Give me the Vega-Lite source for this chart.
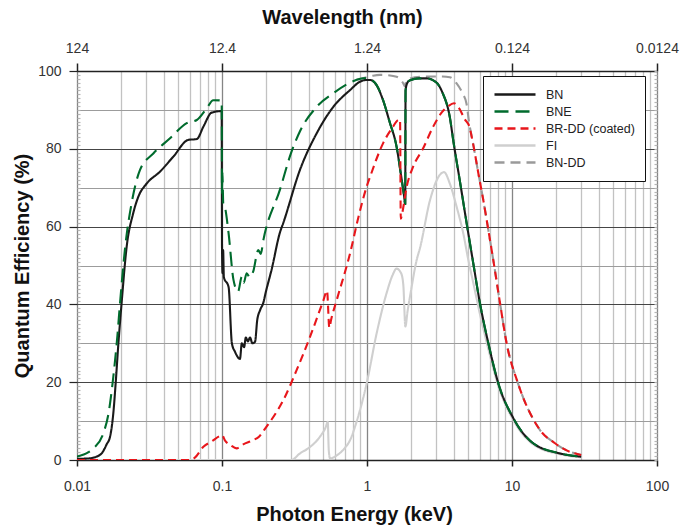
{
  "$schema": "https://vega.github.io/schema/vega-lite/v6.json",
  "width": 580,
  "height": 389,
  "autosize": {"type": "none"},
  "padding": {"left": 77, "top": 71, "right": 25, "bottom": 68},
  "background": "white",
  "config": {"view": {"stroke": null}, "font": "Liberation Sans"},
  "data": {"values": [
    {"series":"BN-DD","E":0.85,"QE":97.8},{"series":"BN-DD","E":0.9,"QE":98},{"series":"BN-DD","E":1.0,"QE":98.4},{"series":"BN-DD","E":1.1,"QE":98.8},{"series":"BN-DD","E":1.23,"QE":99},{"series":"BN-DD","E":1.4,"QE":98.9},{"series":"BN-DD","E":1.6,"QE":98.5},{"series":"BN-DD","E":1.72,"QE":97.6},{"series":"BN-DD","E":1.78,"QE":96.8},{"series":"BN-DD","E":1.83,"QE":96},{"series":"BN-DD","E":1.86,"QE":97.3},{"series":"BN-DD","E":1.95,"QE":98},{"series":"BN-DD","E":2.32,"QE":98.5},{"series":"BN-DD","E":3.31,"QE":98.6},{"series":"BN-DD","E":3.73,"QE":98.4},{"series":"BN-DD","E":4.15,"QE":96.8},{"series":"BN-DD","E":4.55,"QE":94.3},{"series":"BN-DD","E":4.86,"QE":91.5},{"series":"BN-DD","E":5.05,"QE":87},{"series":"BN-DD","E":5.41,"QE":81},{"series":"BN-DD","E":5.86,"QE":73.7},{"series":"BN-DD","E":6.34,"QE":66.8},{"series":"BN-DD","E":6.87,"QE":59.1},{"series":"BN-DD","E":7.43,"QE":51.4},{"series":"BN-DD","E":8.27,"QE":40.3},{"series":"BN-DD","E":9.18,"QE":30},{"series":"BN-DD","E":11.0,"QE":19.7},{"series":"BN-DD","E":14.8,"QE":9},{"series":"BN-DD","E":15.6,"QE":7.7},{"series":"BN-DD","E":19.8,"QE":4.3},{"series":"BN-DD","E":25.1,"QE":2.1},{"series":"BN-DD","E":30,"QE":1.3},

    {"series":"FI","E":0.01,"QE":0},{"series":"FI","E":0.1,"QE":0},{"series":"FI","E":0.3,"QE":0},{"series":"FI","E":0.345,"QE":1.7},{"series":"FI","E":0.4,"QE":3.2},{"series":"FI","E":0.474,"QE":6},{"series":"FI","E":0.52,"QE":8.5},{"series":"FI","E":0.536,"QE":9.8},{"series":"FI","E":0.545,"QE":2.5},{"series":"FI","E":0.556,"QE":0.4},{"series":"FI","E":0.62,"QE":1.2},{"series":"FI","E":0.7,"QE":3},{"series":"FI","E":0.764,"QE":5.1},{"series":"FI","E":0.85,"QE":10},{"series":"FI","E":0.995,"QE":19.7},{"series":"FI","E":1.166,"QE":32.6},{"series":"FI","E":1.365,"QE":42.9},{"series":"FI","E":1.5,"QE":47.5},{"series":"FI","E":1.6,"QE":49.2},{"series":"FI","E":1.72,"QE":48},{"series":"FI","E":1.78,"QE":45},{"series":"FI","E":1.84,"QE":34.3},{"series":"FI","E":1.9,"QE":38},{"series":"FI","E":2.0,"QE":43},{"series":"FI","E":2.2,"QE":51.4},{"series":"FI","E":2.32,"QE":54.5},{"series":"FI","E":2.72,"QE":66.8},{"series":"FI","E":3.18,"QE":73.3},{"series":"FI","E":3.4,"QE":74},{"series":"FI","E":3.73,"QE":71},{"series":"FI","E":4.15,"QE":65.1},{"series":"FI","E":4.61,"QE":58.3},{"series":"FI","E":5.0,"QE":51.4},{"series":"FI","E":5.41,"QE":45.5},{"series":"FI","E":6.01,"QE":37.5},{"series":"FI","E":6.87,"QE":28.5},{"series":"FI","E":8.05,"QE":19},{"series":"FI","E":10.2,"QE":10.3},{"series":"FI","E":14,"QE":4},{"series":"FI","E":21.4,"QE":1.5},{"series":"FI","E":30,"QE":0.7},

    {"series":"BN","E":0.01,"QE":0.3},{"series":"BN","E":0.012,"QE":0.4},{"series":"BN","E":0.0135,"QE":0.8},{"series":"BN","E":0.015,"QE":2},{"series":"BN","E":0.016,"QE":4},{"series":"BN","E":0.0169,"QE":6},{"series":"BN","E":0.0178,"QE":12},{"series":"BN","E":0.0185,"QE":20},{"series":"BN","E":0.0193,"QE":30},{"series":"BN","E":0.0203,"QE":40.3},{"series":"BN","E":0.022,"QE":54.8},{"series":"BN","E":0.0244,"QE":63.4},{"series":"BN","E":0.0265,"QE":67.7},{"series":"BN","E":0.0303,"QE":71.1},{"series":"BN","E":0.0373,"QE":74.1},{"series":"BN","E":0.0462,"QE":78},{"series":"BN","E":0.0586,"QE":82.3},{"series":"BN","E":0.067,"QE":82.5},{"series":"BN","E":0.0744,"QE":85.7},{"series":"BN","E":0.0849,"QE":89.3},{"series":"BN","E":0.0995,"QE":89.7},{"series":"BN","E":0.1,"QE":55},{"series":"BN","E":0.1008,"QE":48},{"series":"BN","E":0.1018,"QE":54},{"series":"BN","E":0.103,"QE":47},{"series":"BN","E":0.111,"QE":44.5},{"series":"BN","E":0.117,"QE":30},{"series":"BN","E":0.123,"QE":27.8},{"series":"BN","E":0.133,"QE":26},{"series":"BN","E":0.137,"QE":30},{"series":"BN","E":0.142,"QE":29},{"series":"BN","E":0.146,"QE":31.5},{"series":"BN","E":0.151,"QE":30.5},{"series":"BN","E":0.156,"QE":31.5},{"series":"BN","E":0.162,"QE":30},{"series":"BN","E":0.169,"QE":30.4},{"series":"BN","E":0.175,"QE":36},{"series":"BN","E":0.183,"QE":38.5},{"series":"BN","E":0.193,"QE":40.5},{"series":"BN","E":0.2,"QE":43},{"series":"BN","E":0.22,"QE":49},{"series":"BN","E":0.251,"QE":58.5},{"series":"BN","E":0.265,"QE":61},{"series":"BN","E":0.345,"QE":74.6},{"series":"BN","E":0.45,"QE":84},{"series":"BN","E":0.586,"QE":90.8},{"series":"BN","E":0.764,"QE":95.1},{"series":"BN","E":0.9,"QE":97.3},{"series":"BN","E":1.0,"QE":97.7},{"series":"BN","E":1.05,"QE":97.7},{"series":"BN","E":1.17,"QE":96.2},{"series":"BN","E":1.29,"QE":92.5},{"series":"BN","E":1.43,"QE":87},{"series":"BN","E":1.6,"QE":80.5},{"series":"BN","E":1.72,"QE":73},{"series":"BN","E":1.8,"QE":68},{"series":"BN","E":1.835,"QE":65.8},{"series":"BN","E":1.845,"QE":95},{"series":"BN","E":1.9,"QE":97},{"series":"BN","E":1.98,"QE":97.6},{"series":"BN","E":2.3,"QE":98.1},{"series":"BN","E":2.58,"QE":98.1},{"series":"BN","E":3.02,"QE":97},{"series":"BN","E":3.31,"QE":94.5},{"series":"BN","E":3.73,"QE":88},{"series":"BN","E":3.94,"QE":82},{"series":"BN","E":4.38,"QE":71.5},{"series":"BN","E":4.86,"QE":61},{"series":"BN","E":5.41,"QE":50.5},{"series":"BN","E":6.01,"QE":40.3},{"series":"BN","E":6.87,"QE":30},{"series":"BN","E":8.05,"QE":19.7},{"series":"BN","E":10.2,"QE":10.8},{"series":"BN","E":14,"QE":4.3},{"series":"BN","E":21.4,"QE":1.7},{"series":"BN","E":30,"QE":0.85},

    {"series":"BNE","E":0.01,"QE":0.9},{"series":"BNE","E":0.012,"QE":2},{"series":"BNE","E":0.013,"QE":3},{"series":"BNE","E":0.0152,"QE":6.9},{"series":"BNE","E":0.0165,"QE":12},{"series":"BNE","E":0.0178,"QE":21.4},{"series":"BNE","E":0.019,"QE":32},{"series":"BNE","E":0.0198,"QE":40.3},{"series":"BNE","E":0.0215,"QE":54.8},{"series":"BNE","E":0.0238,"QE":66},{"series":"BNE","E":0.0272,"QE":74.6},{"series":"BNE","E":0.0336,"QE":78.8},{"series":"BNE","E":0.0438,"QE":82.7},{"series":"BNE","E":0.0571,"QE":86.6},{"series":"BNE","E":0.067,"QE":87.4},{"series":"BNE","E":0.0784,"QE":90.4},{"series":"BNE","E":0.087,"QE":92.5},{"series":"BNE","E":0.0995,"QE":92.4},{"series":"BNE","E":0.1,"QE":68.6},{"series":"BNE","E":0.1006,"QE":74},{"series":"BNE","E":0.102,"QE":66},{"series":"BNE","E":0.1048,"QE":65},{"series":"BNE","E":0.111,"QE":58.3},{"series":"BNE","E":0.12,"QE":46.3},{"series":"BNE","E":0.129,"QE":43.3},{"series":"BNE","E":0.137,"QE":47.1},{"series":"BNE","E":0.141,"QE":45.5},{"series":"BNE","E":0.148,"QE":48},{"series":"BNE","E":0.155,"QE":47},{"series":"BNE","E":0.164,"QE":48.4},{"series":"BNE","E":0.178,"QE":54},{"series":"BNE","E":0.185,"QE":53},{"series":"BNE","E":0.193,"QE":56.6},{"series":"BNE","E":0.251,"QE":69.5},{"series":"BNE","E":0.3,"QE":79},{"series":"BNE","E":0.345,"QE":84.5},{"series":"BNE","E":0.45,"QE":90.8},{"series":"BNE","E":0.586,"QE":94.3},{"series":"BNE","E":0.764,"QE":97},{"series":"BNE","E":0.9,"QE":98},{"series":"BNE","E":1.0,"QE":98.2},{"series":"BNE","E":1.05,"QE":97.9},{"series":"BNE","E":1.17,"QE":96.3},{"series":"BNE","E":1.29,"QE":92.6},{"series":"BNE","E":1.43,"QE":87},{"series":"BNE","E":1.6,"QE":80.5},{"series":"BNE","E":1.72,"QE":73},{"series":"BNE","E":1.8,"QE":68},{"series":"BNE","E":1.835,"QE":65.8},{"series":"BNE","E":1.845,"QE":95},{"series":"BNE","E":1.9,"QE":97},{"series":"BNE","E":1.98,"QE":97.6},{"series":"BNE","E":2.3,"QE":98.1},{"series":"BNE","E":2.58,"QE":98.1},{"series":"BNE","E":3.02,"QE":97},{"series":"BNE","E":3.31,"QE":94.5},{"series":"BNE","E":3.73,"QE":88},{"series":"BNE","E":3.94,"QE":82},{"series":"BNE","E":4.38,"QE":71.5},{"series":"BNE","E":4.86,"QE":61},{"series":"BNE","E":5.41,"QE":50.5},{"series":"BNE","E":6.01,"QE":40.3},{"series":"BNE","E":6.87,"QE":30},{"series":"BNE","E":8.05,"QE":19.7},{"series":"BNE","E":10.2,"QE":10.8},{"series":"BNE","E":14,"QE":4.3},{"series":"BNE","E":21.4,"QE":1.7},{"series":"BNE","E":30,"QE":0.85},

    {"series":"BR-DD (coated)","E":0.01,"QE":0},{"series":"BR-DD (coated)","E":0.06,"QE":0},{"series":"BR-DD (coated)","E":0.065,"QE":0.6},{"series":"BR-DD (coated)","E":0.0744,"QE":3.4},{"series":"BR-DD (coated)","E":0.085,"QE":4.8},{"series":"BR-DD (coated)","E":0.097,"QE":6.2},{"series":"BR-DD (coated)","E":0.1,"QE":6.4},{"series":"BR-DD (coated)","E":0.105,"QE":5},{"series":"BR-DD (coated)","E":0.115,"QE":3.8},{"series":"BR-DD (coated)","E":0.126,"QE":3},{"series":"BR-DD (coated)","E":0.14,"QE":4},{"series":"BR-DD (coated)","E":0.164,"QE":5.1},{"series":"BR-DD (coated)","E":0.18,"QE":6},{"series":"BR-DD (coated)","E":0.203,"QE":8.6},{"series":"BR-DD (coated)","E":0.23,"QE":11.5},{"series":"BR-DD (coated)","E":0.265,"QE":15.4},{"series":"BR-DD (coated)","E":0.327,"QE":23.1},{"series":"BR-DD (coated)","E":0.405,"QE":31.7},{"series":"BR-DD (coated)","E":0.5,"QE":41},{"series":"BR-DD (coated)","E":0.53,"QE":43.5},{"series":"BR-DD (coated)","E":0.55,"QE":34},{"series":"BR-DD (coated)","E":0.565,"QE":36},{"series":"BR-DD (coated)","E":0.618,"QE":41.1},{"series":"BR-DD (coated)","E":0.764,"QE":53.1},{"series":"BR-DD (coated)","E":0.88,"QE":63},{"series":"BR-DD (coated)","E":0.995,"QE":70.3},{"series":"BR-DD (coated)","E":1.05,"QE":72.8},{"series":"BR-DD (coated)","E":1.29,"QE":81.4},{"series":"BR-DD (coated)","E":1.5,"QE":85.5},{"series":"BR-DD (coated)","E":1.64,"QE":87.4},{"series":"BR-DD (coated)","E":1.69,"QE":87.5},{"series":"BR-DD (coated)","E":1.71,"QE":62},{"series":"BR-DD (coated)","E":1.75,"QE":63.5},{"series":"BR-DD (coated)","E":1.88,"QE":70.3},{"series":"BR-DD (coated)","E":2.08,"QE":75.4},{"series":"BR-DD (coated)","E":2.43,"QE":80},{"series":"BR-DD (coated)","E":2.86,"QE":85.7},{"series":"BR-DD (coated)","E":3.3,"QE":89.5},{"series":"BR-DD (coated)","E":3.64,"QE":91},{"series":"BR-DD (coated)","E":3.98,"QE":91.7},{"series":"BR-DD (coated)","E":4.3,"QE":90.5},{"series":"BR-DD (coated)","E":4.74,"QE":87.5},{"series":"BR-DD (coated)","E":5.05,"QE":86},{"series":"BR-DD (coated)","E":5.41,"QE":81},{"series":"BR-DD (coated)","E":5.86,"QE":73.7},{"series":"BR-DD (coated)","E":6.34,"QE":66.8},{"series":"BR-DD (coated)","E":6.87,"QE":59.1},{"series":"BR-DD (coated)","E":7.43,"QE":51.4},{"series":"BR-DD (coated)","E":8.27,"QE":40.3},{"series":"BR-DD (coated)","E":9.18,"QE":30},{"series":"BR-DD (coated)","E":11.0,"QE":19.7},{"series":"BR-DD (coated)","E":14.8,"QE":9},{"series":"BR-DD (coated)","E":15.6,"QE":7.7},{"series":"BR-DD (coated)","E":19.8,"QE":4.3},{"series":"BR-DD (coated)","E":25.1,"QE":2.1},{"series":"BR-DD (coated)","E":30,"QE":1.3}
  ]},
  "layer": [
    {
      "mark": {"type": "line", "strokeWidth": 2.1, "clip": true, "interpolate": "monotone"},
      "encoding": {
        "x": {
          "field": "E", "type": "quantitative",
          "scale": {"type": "log", "domain": [0.01, 100], "nice": false},
          "axis": {
            "orient": "bottom",
            "title": "Photon Energy (keV)",
            "values": [0.01,0.02,0.03,0.04,0.05,0.06,0.07,0.08,0.09,0.1,0.2,0.3,0.4,0.5,0.6,0.7,0.8,0.9,1,2,3,4,5,6,7,8,9,10,20,30,40,50,60,70,80,90,100],
            "labelExpr": "(datum.value == 0.01 || datum.value == 0.1 || datum.value == 1 || datum.value == 10 || datum.value == 100) ? format(datum.value, '~g') : ''",
            "grid": true,
            "gridColor": {"condition": {"test": "datum.value == 0.01 || datum.value == 0.1 || datum.value == 1 || datum.value == 10 || datum.value == 100", "value": "#858585"}, "value": "#c2c2c2"},
            "gridWidth": 1.3,
            "tickOpacity": {"condition": {"test": "datum.value == 0.01 || datum.value == 0.1 || datum.value == 1 || datum.value == 10 || datum.value == 100", "value": 1}, "value": 0},
            "tickSize": 6, "tickColor": "#222", "tickWidth": 1.5,
            "domain": true, "domainColor": "#222", "domainWidth": 1.5,
            "labelFont": "Liberation Sans", "labelFontSize": 14, "labelColor": "#333", "labelPadding": 13,
            "labelFlush": false, "labelOverlap": false, "labelBound": false,
            "titleFont": "Liberation Sans", "titleFontSize": 20, "titleFontWeight": "bold", "titleColor": "#111",
            "titleX": 277, "titleY": 54, "titleBaseline": "middle", "titleAlign": "center"
          }
        },
        "y": {
          "field": "QE", "type": "quantitative",
          "scale": {"domain": [0, 100], "nice": false},
          "axis": {
            "orient": "left",
            "title": "Quantum Efficiency (%)",
            "values": [0,1,2,3,4,5,6,7,8,9,10,11,12,13,14,15,16,17,18,19,20,21,22,23,24,25,26,27,28,29,30,31,32,33,34,35,36,37,38,39,40,41,42,43,44,45,46,47,48,49,50,51,52,53,54,55,56,57,58,59,60,61,62,63,64,65,66,67,68,69,70,71,72,73,74,75,76,77,78,79,80,81,82,83,84,85,86,87,88,89,90,91,92,93,94,95,96,97,98,99,100],
            "labelExpr": "datum.value % 20 == 0 ? '' + datum.value : ''",
            "grid": true,
            "gridOpacity": {"condition": {"test": "datum.value % 10 == 0", "value": 1}, "value": 0},
            "gridColor": {"condition": {"test": "datum.value % 20 == 0", "value": "#454545"}, "value": "#9c9c9c"},
            "gridWidth": 1.2,
            "tickSize": {"condition": {"test": "datum.value % 20 == 0", "value": 8}, "value": -3},
            "tickColor": {"condition": {"test": "datum.value % 20 == 0", "value": "#222"}, "value": "#b5b5b5"},
            "tickWidth": 1.2,
            "domain": false,
            "labelFont": "Liberation Sans", "labelFontSize": 14, "labelColor": "#333", "labelPadding": 8,
            "labelOverlap": false, "labelBound": false,
            "titleFont": "Liberation Sans", "titleFontSize": 20, "titleFontWeight": "bold", "titleColor": "#111",
            "titleX": -55, "titleY": 194.5, "titleAngle": -90, "titleBaseline": "middle", "titleAlign": "center"
          }
        },
        "color": {
          "field": "series", "type": "nominal",
          "scale": {"domain": ["BN", "BNE", "BR-DD (coated)", "FI", "BN-DD"], "range": ["#1a1a1a", "#006b2d", "#e8161b", "#cfcfcf", "#9a9a9a"]},
          "legend": {
            "title": null, "orient": "none", "legendX": 406, "legendY": 5, "direction": "vertical",
            "symbolType": "stroke", "symbolSize": 1681, "symbolStrokeWidth": 2.5, "clipHeight": 17, "rowPadding": 0,
            "labelOffset": 9, "labelFont": "Liberation Sans", "labelFontSize": 12.5, "labelColor": "#222",
            "padding": 10, "strokeColor": "#111", "fillColor": "white", "cornerRadius": 0
          }
        },
        "strokeDash": {
          "field": "series", "type": "nominal",
          "scale": {"domain": ["BN", "BNE", "BR-DD (coated)", "FI", "BN-DD"], "range": [[1, 0], [14, 7], [8, 5], [1, 0], [10, 6]]},
          "legend": {
            "title": null, "orient": "none", "legendX": 406, "legendY": 5, "direction": "vertical",
            "symbolType": "stroke", "symbolSize": 1681, "symbolStrokeWidth": 2.5, "clipHeight": 17, "rowPadding": 0,
            "labelOffset": 9, "labelFont": "Liberation Sans", "labelFontSize": 12.5, "labelColor": "#222",
            "padding": 10, "strokeColor": "#111", "fillColor": "white", "cornerRadius": 0
          }
        }
      }
    },
    {
      "mark": {"type": "point", "opacity": 0},
      "encoding": {
        "x": {
          "field": "E", "type": "quantitative",
          "axis": {
            "orient": "top",
            "title": "Wavelength (nm)",
            "values": [0.01, 0.1, 1, 10, 100],
            "labelExpr": "datum.value == 0.01 ? '124' : datum.value == 0.1 ? '12.4' : datum.value == 1 ? '1.24' : datum.value == 10 ? '0.124' : '0.0124'",
            "grid": false,
            "tickSize": 8, "tickColor": "#222", "tickWidth": 1.5,
            "domain": true, "domainColor": "#222", "domainWidth": 1.5,
            "labelFont": "Liberation Sans", "labelFontSize": 14, "labelColor": "#333", "labelPadding": 8,
            "labelFlush": false, "labelOverlap": false, "labelBound": false,
            "titleFont": "Liberation Sans", "titleFontSize": 20, "titleFontWeight": "bold", "titleColor": "#111",
            "titleX": 265, "titleY": -54, "titleBaseline": "middle", "titleAlign": "center"
          }
        },
        "y": {
          "field": "QE", "type": "quantitative",
          "axis": {
            "orient": "right",
            "title": null,
            "values": [0,1,2,3,4,5,6,7,8,9,10,11,12,13,14,15,16,17,18,19,20,21,22,23,24,25,26,27,28,29,30,31,32,33,34,35,36,37,38,39,40,41,42,43,44,45,46,47,48,49,50,51,52,53,54,55,56,57,58,59,60,61,62,63,64,65,66,67,68,69,70,71,72,73,74,75,76,77,78,79,80,81,82,83,84,85,86,87,88,89,90,91,92,93,94,95,96,97,98,99,100],
            "labels": false, "grid": false, "domain": false,
            "tickSize": -3, "tickColor": "#b5b5b5", "tickWidth": 1.2
          }
        }
      }
    }
  ],
  "resolve": {"axis": {"x": "independent", "y": "independent"}}
}
